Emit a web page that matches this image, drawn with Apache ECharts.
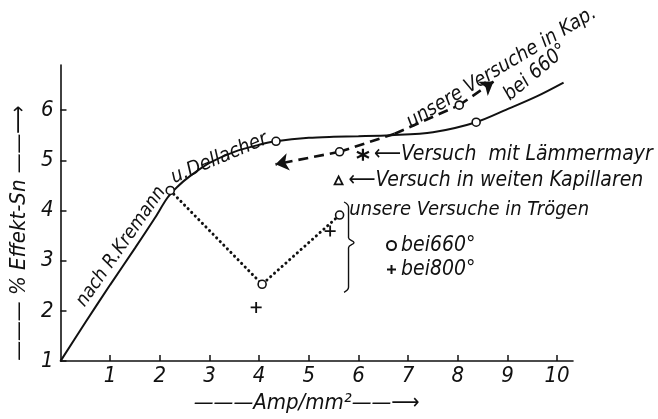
<!DOCTYPE html>
<html>
<head>
<meta charset="utf-8">
<title>Effekt-Sn</title>
<script src="https://cdn.jsdelivr.net/npm/echarts@6/dist/echarts.min.js"></script>
<style>
  html, body { margin: 0; padding: 0; background: #fff; }
  #chart { width: 658px; height: 419px; }
</style>
</head>
<body>
<div id="chart"></div>
<script>
  // Kurve nach R.Kremann u. Dellacher
  var curveX = [0, 0.5, 1, 1.5, 1.9, 2.15, 2.35, 2.6, 3, 3.5, 4, 4.34, 5, 5.5, 6, 6.65, 7.5, 8.37, 9, 9.6, 10.13];
  var curveY = [1, 1.77, 2.52, 3.25, 3.85, 4.25, 4.47, 4.68, 4.95, 5.17, 5.31, 5.38, 5.45, 5.47, 5.48, 5.5, 5.56, 5.76, 6.02, 6.28, 6.55];
  // unsere Versuche in Kap. (gestrichelt, Pfeile an beiden Enden)
  var kapX = [4.33, 5.62, 6.73, 8.03, 8.72];
  var kapY = [4.92, 5.17, 5.53, 6.10, 6.57];
  // Kreise auf den Kurven
  var ringX = [4.34, 8.37, 5.62, 8.03];
  var ringY = [5.38, 5.76, 5.17, 6.10];
  // unsere Versuche in Trögen
  var t660X = [2.21, 4.06, 5.62];
  var t660Y = [4.40, 2.53, 3.91];
  var t800X = [3.94, 5.43];
  var t800Y = [2.07, 3.59];
  // Einzelversuche
  var lammX = [6.09], lammY = [5.11];
  var weitX = [5.6], weitY = [4.6];
  // Klammer
  var braceX = [5.71, 5.80, 5.80, 5.91, 5.80, 5.80, 5.71];
  var braceY = [4.17, 4.07, 3.46, 3.36, 3.26, 2.47, 2.37];
  // Achsen
  var xTicks = [1, 2, 3, 4, 5, 6, 7, 8, 9, 10];
  var yTicks = [1, 2, 3, 4, 5, 6];
  // Beschriftungen im Diagramm
  var notes = ['nach R.Kremann', 'u.Dellacher', 'unsere Versuche in Kap.', 'bei 660°', 'unsere Versuche in Trögen'];
  var notePos = [[1.22, 3.28], [3.2, 5.04], [8.88, 6.85], [9.57, 6.75], [8.23, 4.01]];
  var noteRot = [55, 23, 31, 40, 0];
  var noteSize = [19, 20, 20, 20, 20];

  var font = "'Liberation Sans Narrow', 'DejaVu Sans Condensed', 'Roboto Condensed', sans-serif";
  var ink = '#111';

  function zip(xs, ys) {
    var out = [];
    for (var i = 0; i < xs.length; i++) out.push([xs[i], ys[i]]);
    return out;
  }
  function segs(xs, ys, from, to) {
    var out = [];
    for (var i = from; i < to; i++) out.push({coords: [[xs[i], ys[i]], [xs[i + 1], ys[i + 1]]]});
    return out;
  }
  function txt(size) {
    return {fontFamily: font, fontStyle: 'italic', fontSize: size, color: ink, textBorderWidth: 0};
  }

  var noteData = [];
  for (var i = 0; i < notes.length; i++) {
    noteData.push({
      value: notePos[i],
      label: Object.assign(txt(noteSize[i]), {show: true, position: 'inside', rotate: noteRot[i], formatter: notes[i]})
    });
  }

  var chart = echarts.init(document.getElementById('chart'));
  var ringStyle = {color: '#fff', borderColor: ink, borderWidth: 1.6, opacity: 1};

  chart.setOption({
    animation: false,
    backgroundColor: '#fff',
    textStyle: {fontFamily: font, fontStyle: 'italic', color: ink},
    grid: {left: 52, right: 85, top: 65, bottom: 53},
    legend: {
      data: ['bei660°', 'bei800°'],
      orient: 'vertical', left: 381, top: 230,
      itemWidth: 9, itemHeight: 9, itemGap: 3,
      textStyle: txt(21)
    },
    xAxis: {
      type: 'value', min: 0, max: 10.32, interval: 1,
      axisLine: {lineStyle: {color: ink, width: 1.6}},
      axisTick: {inside: true, length: 6, customValues: xTicks, lineStyle: {color: ink, width: 1.5}},
      splitLine: {show: false},
      axisLabel: Object.assign(txt(22), {margin: 4, customValues: xTicks}),
      name: '———Amp/mm²——⟶',
      nameLocation: 'middle', nameGap: 30,
      nameTextStyle: Object.assign(txt(22), {padding: [0, 20, 0, 0]})
    },
    yAxis: {
      type: 'value', min: 1, max: 6.9, interval: 1,
      axisLine: {lineStyle: {color: ink, width: 1.6}},
      axisTick: {inside: true, length: 6, customValues: yTicks, lineStyle: {color: ink, width: 1.5}},
      splitLine: {show: false},
      axisLabel: Object.assign(txt(22), {margin: 7, customValues: yTicks}),
      name: '——— % Effekt-Sn ——⟶',
      nameLocation: 'middle', nameGap: 14, nameRotate: 90,
      nameTextStyle: Object.assign(txt(22), {padding: [0, 40, 0, 0]})
    },
    series: [
      {
        name: 'Kremann', type: 'line', smooth: 0.3, symbol: 'none',
        data: zip(curveX, curveY),
        lineStyle: {color: ink, width: 2}
      },
      {
        name: 'Kap', type: 'lines', coordinateSystem: 'cartesian2d',
        symbol: 'none',
        data: segs(kapX, kapY, 1, kapX.length - 2),
        lineStyle: {color: ink, width: 2.6, type: [10, 6], opacity: 1}
      },
      {
        name: 'KapPfeil', type: 'lines', coordinateSystem: 'cartesian2d',
        symbol: ['none', 'arrow'], symbolSize: 13,
        data: [
          {coords: [[kapX[1], kapY[1]], [kapX[0], kapY[0]]]},
          {coords: [[kapX[3], kapY[3]], [kapX[4], kapY[4]]]}
        ],
        lineStyle: {color: ink, width: 2.6, type: [10, 6], opacity: 1}
      },
      {
        name: 'Troegen', type: 'line', symbol: 'none',
        data: zip(t660X, t660Y),
        lineStyle: {color: ink, width: 3, type: [0.1, 5], cap: 'round'}
      },
      {
        name: 'Klammer', type: 'line', smooth: 0.4, symbol: 'none',
        data: zip(braceX, braceY),
        lineStyle: {color: ink, width: 1.4}
      },
      {
        name: 'Ringe', type: 'scatter', symbol: 'circle', symbolSize: 8,
        data: zip(ringX, ringY), itemStyle: ringStyle, z: 5
      },
      {
        name: 'bei660°', type: 'scatter', symbol: 'circle', symbolSize: 8,
        data: zip(t660X, t660Y), itemStyle: ringStyle, z: 5
      },
      {
        name: 'bei800°', type: 'scatter', symbol: 'path://M0,-10L0,10M-10,0L10,0', symbolSize: 11,
        data: zip(t800X, t800Y), itemStyle: {color: ink, borderColor: ink, borderWidth: 1.8, opacity: 1}, z: 5
      },
      {
        name: 'Lämmermayr', type: 'scatter',
        symbol: 'path://M0,-10L0,10M-8.66,-5L8.66,5M-8.66,5L8.66,-5', symbolSize: 12,
        data: zip(lammX, lammY),
        itemStyle: {color: ink, borderColor: ink, borderWidth: 2.2, opacity: 1},
        label: Object.assign(txt(21), {show: true, position: 'right', distance: 4, formatter: '⟵Versuch  mit Lämmermayr'}),
        z: 5
      },
      {
        name: 'weite Kapillaren', type: 'scatter', symbol: 'triangle', symbolSize: 8,
        data: zip(weitX, weitY),
        itemStyle: {color: '#fff', borderColor: ink, borderWidth: 1.8, opacity: 1},
        label: Object.assign(txt(21), {show: true, position: 'right', distance: 5, formatter: '⟵Versuch in weiten Kapillaren'}),
        z: 5
      },
      {
        name: 'Notiz', type: 'scatter', symbol: 'circle', symbolSize: 0,
        data: noteData,
        itemStyle: {color: ink, opacity: 1},
        z: 6
      }
    ]
  });
</script>
</body>
</html>
